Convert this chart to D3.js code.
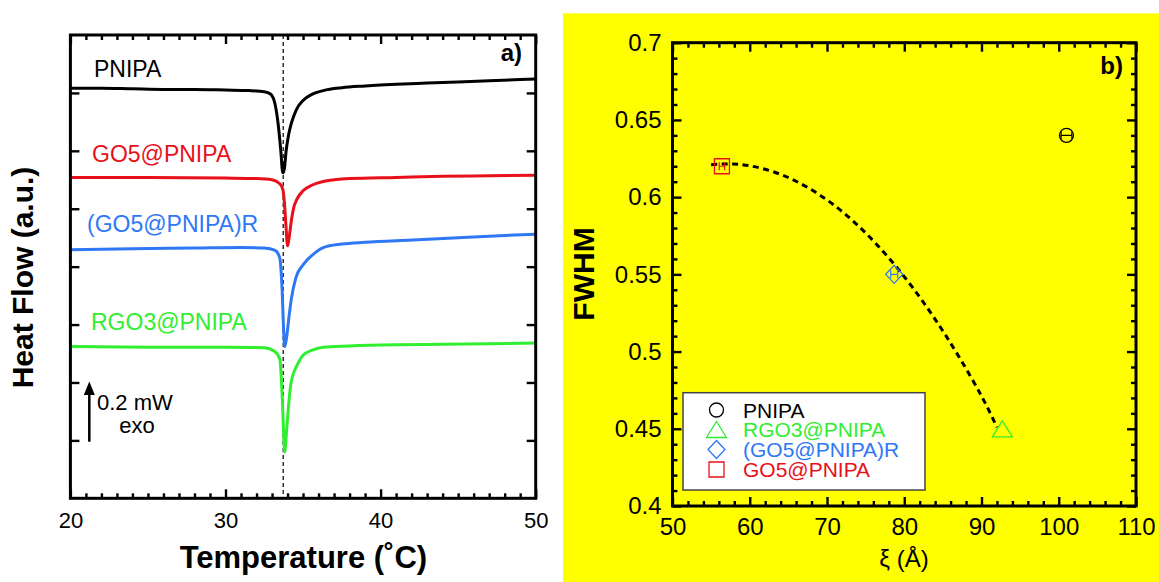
<!DOCTYPE html>
<html><head><meta charset="utf-8">
<script src="https://cdn.jsdelivr.net/npm/d3@7"></script>
<style>
body{margin:0;background:#fff}
svg{display:block;font-family:"Liberation Sans",Arial,Helvetica,sans-serif}
</style>
</head><body>
<svg id="c" width="1159" height="582"></svg>
<script>
// ---------- Panel a data (Temperature °C, heat flow a.u.) ----------
const tempTicks = [20, 30, 40, 50];
const heatTickValues = [1, 2, 3, 4, 5, 6, 7];
const dscNames = ["PNIPA", "GO5@PNIPA", "(GO5@PNIPA)R", "RGO3@PNIPA"];
const dscColors = ["#000000", "#e8101a", "#2f78f5", "#30ee30"];
const pnipaCurve = [[20,7.08],[22,7.08],[24,7.07],[26,7.06],[28,7.06],[30,7.05],[31.5,7.04],[32.5,7.02],[32.9,6.98],[33.2,6.80],[33.4,6.45],[33.55,6.05],[33.7,5.62],[33.8,5.70],[33.9,5.98],[34.05,6.25],[34.25,6.48],[34.55,6.70],[35.0,6.87],[35.6,6.98],[36.3,7.04],[37.5,7.09],[39,7.12],[41,7.15],[43,7.17],[45,7.19],[47,7.21],[49,7.23],[50,7.24]];
const go5Curve = [[20,5.54],[25,5.54],[30,5.53],[32,5.52],[33,5.50],[33.5,5.43],[33.7,5.33],[33.8,5.10],[33.9,4.70],[34.0,4.36],[34.1,4.50],[34.25,4.80],[34.4,5.02],[34.6,5.16],[35.0,5.31],[35.6,5.41],[36.3,5.47],[38,5.52],[41,5.54],[44,5.56],[47,5.57],[50,5.58]];
const go5rCurve = [[20,4.29],[24,4.31],[28,4.32],[31,4.33],[32.5,4.32],[33.2,4.28],[33.5,4.15],[33.65,3.60],[33.75,2.90],[33.82,2.62],[33.95,2.80],[34.1,3.15],[34.25,3.45],[34.55,3.82],[35.0,4.03],[35.6,4.20],[36.3,4.33],[37.5,4.39],[39,4.42],[42,4.46],[45,4.50],[48,4.54],[50,4.56]];
const rgo3Curve = [[20,2.62],[25,2.61],[30,2.61],[32.5,2.60],[33.2,2.53],[33.5,2.40],[33.65,1.80],[33.75,1.10],[33.82,0.80],[33.92,1.10],[34.05,1.55],[34.2,1.95],[34.4,2.17],[34.6,2.29],[35.0,2.47],[35.6,2.56],[36.3,2.61],[38,2.63],[41,2.65],[44,2.66],[47,2.67],[50,2.68]];
const transitionTemp = 33.72;

// ---------- Panel b data ----------
const sampleNames = ["PNIPA", "RGO3@PNIPA", "(GO5@PNIPA)R", "GO5@PNIPA"];
const sampleColors = ["#000000", "#30ee30", "#2f78f5", "#e8101a"];
const sampleShapes = ["circle", "triangle", "diamond", "square"];
const xiValues = [101.0, 92.7, 78.7, 56.4];
const fwhmValues = [0.64, 0.45, 0.55, 0.62];
const xiErrors = [0.7, 0, 0.45, 0.35];
const fitXi =   [55.0, 57.5, 60, 63, 66, 69, 72, 75, 78, 81, 84, 87, 90, 92];
const fitFwhm = [0.621, 0.6215, 0.6203, 0.6165, 0.6103, 0.6016, 0.5905, 0.5768, 0.5606, 0.542, 0.5209, 0.4973, 0.4712, 0.451];
const xiTicks = [50, 60, 70, 80, 90, 100, 110];
const fwhmTicks = [0.4, 0.45, 0.5, 0.55, 0.6, 0.65, 0.7];
const fwhmTickLabels = ["0.4", "0.45", "0.5", "0.55", "0.6", "0.65", "0.7"];

const svg = d3.select("#c");
const FONT = '"Liberation Sans",Arial,Helvetica,sans-serif';

function styleAxis(g, fs) {
  g.attr("font-family", FONT).attr("font-size", fs);
  g.select(".domain").remove();
  g.selectAll(".tick line").attr("stroke", "#000").attr("stroke-width", 2.4);
  g.selectAll(".tick text").attr("fill", "#000");
}

// ================= Panel a =================
const A = {l: 70.4, r: 535.7, t: 35, b: 498.3};
const xa = d3.scaleLinear().domain([20, 50]).range([A.l, A.r]);
const ya = d3.scaleLinear().domain([0, 8]).range([A.b, A.t]);
const minorT = d3.range(20, 51, 1).filter(v => v % 10 !== 0);

const ga = svg.append("g");
ga.append("g").attr("transform", `translate(0,${A.b})`)
  .call(d3.axisBottom(xa).tickValues(tempTicks).tickFormat(d3.format("d")).tickSizeInner(-9).tickSizeOuter(0).tickPadding(14))
  .call(g => styleAxis(g, 22));
ga.append("g").attr("transform", `translate(0,${A.b})`)
  .call(d3.axisBottom(xa).tickValues(minorT).tickFormat("").tickSizeInner(-5).tickSizeOuter(0))
  .call(g => styleAxis(g, 22));
ga.append("g").attr("transform", `translate(0,${A.t})`)
  .call(d3.axisTop(xa).tickValues(tempTicks).tickFormat("").tickSizeInner(-9).tickSizeOuter(0))
  .call(g => styleAxis(g, 22));
ga.append("g").attr("transform", `translate(0,${A.t})`)
  .call(d3.axisTop(xa).tickValues(minorT).tickFormat("").tickSizeInner(-5).tickSizeOuter(0))
  .call(g => styleAxis(g, 22));
ga.append("g").attr("transform", `translate(${A.l},0)`)
  .call(d3.axisLeft(ya).tickValues(heatTickValues).tickFormat("").tickSizeInner(-9).tickSizeOuter(0))
  .call(g => styleAxis(g, 22));
ga.append("g").attr("transform", `translate(${A.r},0)`)
  .call(d3.axisRight(ya).tickValues(heatTickValues).tickFormat("").tickSizeInner(-9).tickSizeOuter(0))
  .call(g => styleAxis(g, 22));

ga.append("line")
  .attr("x1", xa(transitionTemp)).attr("x2", xa(transitionTemp))
  .attr("y1", A.t).attr("y2", A.b)
  .attr("stroke", "#000").attr("stroke-width", 1.2).attr("stroke-dasharray", "4,3");

const lineA = d3.line().x(d => xa(d[0])).y(d => ya(d[1])).curve(d3.curveMonotoneX);
[pnipaCurve, go5Curve, go5rCurve, rgo3Curve].forEach((c, i) => {
  ga.append("path").datum(c).attr("d", lineA)
    .attr("fill", "none").attr("stroke", dscColors[i]).attr("stroke-width", 3)
    .attr("stroke-linejoin", "round");
});

ga.append("rect").attr("x", A.l).attr("y", A.t).attr("width", A.r - A.l).attr("height", A.b - A.t)
  .attr("fill", "none").attr("stroke", "#000").attr("stroke-width", 3);

const labelPos = [[94, 76.7], [92, 161.7], [87, 231.7], [91, 330]];
dscNames.forEach((n, i) => {
  ga.append("text").attr("x", labelPos[i][0]).attr("y", labelPos[i][1])
    .attr("font-size", 23).attr("fill", dscColors[i]).text(n);
});
ga.append("text").attr("x", 522).attr("y", 61).attr("text-anchor", "end")
  .attr("font-size", 24).attr("font-weight", "bold").text("a)");

ga.append("line").attr("x1", 89.3).attr("x2", 89.3).attr("y1", 441.7).attr("y2", 392)
  .attr("stroke", "#000").attr("stroke-width", 2.5);
ga.append("path").attr("d", "M89.3,381.5 L83.8,395 L94.8,395 Z").attr("fill", "#000");
ga.append("text").attr("x", 97).attr("y", 410).attr("font-size", 22).text("0.2 mW");
ga.append("text").attr("x", 137).attr("y", 433).attr("text-anchor", "middle").attr("font-size", 22).text("exo");

ga.append("text").attr("x", 303.4).attr("y", 568.3).attr("text-anchor", "middle")
  .attr("font-size", 31).attr("font-weight", "bold").text("Temperature (\u02DAC)");
ga.append("text").attr("transform", "translate(33.3,277.5) rotate(-90)").attr("text-anchor", "middle")
  .attr("font-size", 30).attr("font-weight", "bold").text("Heat Flow (a.u.)");

// ================= Panel b =================
svg.append("rect").attr("x", 563).attr("y", 13.3).attr("width", 1159 - 563).attr("height", 582 - 13.3).attr("fill", "#ffff00");
const B = {l: 672.5, r: 1136, t: 42.7, b: 506};
const xb = d3.scaleLinear().domain([50, 110]).range([B.l, B.r]);
const yb = d3.scaleLinear().domain([0.4, 0.7]).range([B.b, B.t]);
const minorXi = d3.range(50, 111, 2).filter(v => v % 10 !== 0);
const minorF = d3.range(40, 71, 1).filter(v => v % 5 !== 0).map(v => v / 100);
const gb = svg.append("g");

gb.append("g").attr("transform", `translate(0,${B.b})`)
  .call(d3.axisBottom(xb).tickValues(xiTicks).tickFormat(d3.format("d")).tickSizeInner(-9).tickSizeOuter(0).tickPadding(12))
  .call(g => styleAxis(g, 24));
gb.append("g").attr("transform", `translate(0,${B.b})`)
  .call(d3.axisBottom(xb).tickValues(minorXi).tickFormat("").tickSizeInner(-5).tickSizeOuter(0))
  .call(g => styleAxis(g, 24));
gb.append("g").attr("transform", `translate(0,${B.t})`)
  .call(d3.axisTop(xb).tickValues(xiTicks).tickFormat("").tickSizeInner(-9).tickSizeOuter(0))
  .call(g => styleAxis(g, 24));
gb.append("g").attr("transform", `translate(0,${B.t})`)
  .call(d3.axisTop(xb).tickValues(minorXi).tickFormat("").tickSizeInner(-5).tickSizeOuter(0))
  .call(g => styleAxis(g, 24));
gb.append("g").attr("transform", `translate(${B.l},0)`)
  .call(d3.axisLeft(yb).tickValues(fwhmTicks).tickFormat((d, i) => fwhmTickLabels[i]).tickSizeInner(-9).tickSizeOuter(0).tickPadding(11))
  .call(g => styleAxis(g, 24));
gb.append("g").attr("transform", `translate(${B.l},0)`)
  .call(d3.axisLeft(yb).tickValues(minorF).tickFormat("").tickSizeInner(-5).tickSizeOuter(0))
  .call(g => styleAxis(g, 24));
gb.append("g").attr("transform", `translate(${B.r},0)`)
  .call(d3.axisRight(yb).tickValues(fwhmTicks).tickFormat("").tickSizeInner(-9).tickSizeOuter(0))
  .call(g => styleAxis(g, 24));
gb.append("g").attr("transform", `translate(${B.r},0)`)
  .call(d3.axisRight(yb).tickValues(minorF).tickFormat("").tickSizeInner(-5).tickSizeOuter(0))
  .call(g => styleAxis(g, 24));

const fitData = fitXi.map((x, i) => [x, fitFwhm[i]]);
gb.append("path").datum(fitData)
  .attr("d", d3.line().x(d => xb(d[0])).y(d => yb(d[1])).curve(d3.curveNatural))
  .attr("fill", "none").attr("stroke", "#000").attr("stroke-width", 3).attr("stroke-dasharray", "6,4.5");

function shapePath(shape) {
  switch (shape) {
    case "circle": return "M7,0A7,7 0 1,1 -7,0A7,7 0 1,1 7,0Z";
    case "triangle": return "M0,-8L10,8L-10,8Z";
    case "diamond": return "M0,-9L8.5,0L0,9L-8.5,0Z";
    case "square": return "M-7.5,-7.5H7.5V7.5H-7.5Z";
  }
}
function drawMarker(g, shape, color, x, y) {
  g.append("path").attr("d", shapePath(shape)).attr("transform", `translate(${x},${y})`)
    .attr("fill", "none").attr("stroke", color).attr("stroke-width", 1.3);
}

sampleNames.forEach((n, i) => {
  const cx = xb(xiValues[i]), cy = yb(fwhmValues[i]);
  if (xiErrors[i] > 0) {
    const x0 = xb(xiValues[i] - xiErrors[i]), x1 = xb(xiValues[i] + xiErrors[i]);
    gb.append("path")
      .attr("d", `M${x0},${cy}H${x1}M${x0},${cy - 4}V${cy + 4}M${x1},${cy - 4}V${cy + 4}`)
      .attr("stroke", sampleColors[i]).attr("stroke-width", 1.2).attr("fill", "none");
  }
  drawMarker(gb, sampleShapes[i], sampleColors[i], cx, cy);
});

gb.append("rect").attr("x", B.l).attr("y", B.t).attr("width", B.r - B.l).attr("height", B.b - B.t)
  .attr("fill", "none").attr("stroke", "#000").attr("stroke-width", 3);

const L = {x: 683, y: 392.7, w: 242, h: 97.3};
gb.append("rect").attr("x", L.x).attr("y", L.y).attr("width", L.w).attr("height", L.h)
  .attr("fill", "#fff").attr("stroke", "#444").attr("stroke-width", 1.5);
const legBase = [417.5, 437, 457, 477];
sampleNames.forEach((n, i) => {
  drawMarker(gb, sampleShapes[i], sampleColors[i], 716.5, legBase[i] - 7.5);
  gb.append("text").attr("x", 743).attr("y", legBase[i]).attr("font-size", 21)
    .attr("fill", sampleColors[i]).text(n);
});

gb.append("text").attr("x", 1123).attr("y", 74).attr("text-anchor", "end")
  .attr("font-size", 24).attr("font-weight", "bold").text("b)");
gb.append("text").attr("x", 904).attr("y", 567).attr("text-anchor", "middle")
  .attr("font-size", 24).text("\u03BE (\u00C5)");
gb.append("text").attr("transform", "translate(594,274) rotate(-90)").attr("text-anchor", "middle")
  .attr("font-size", 30).attr("font-weight", "bold").text("FWHM");
</script>
</body></html>
